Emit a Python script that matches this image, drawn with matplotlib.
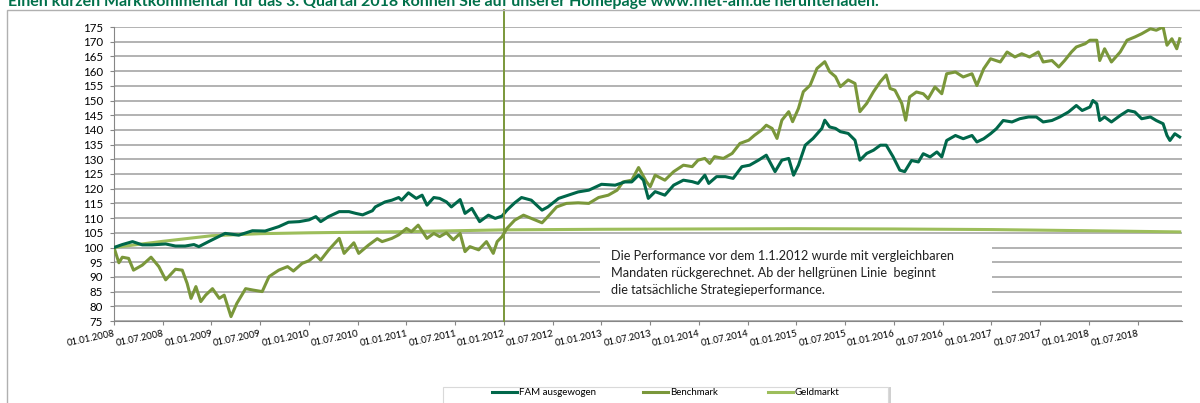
import numpy as np
import matplotlib
matplotlib.use("Agg")
import matplotlib.pyplot as plt
from matplotlib.patches import Rectangle

plt.rcParams['font.family'] = ['Lato', 'DejaVu Sans']

# Zeit in Jahren (Dezimaljahr), Werte indexiert auf 100
fam_t = [2008.00, 2008.085, 2008.19, 2008.29, 2008.39, 2008.53, 2008.63, 2008.73, 2008.82, 2008.87,
         2008.97, 2009.14, 2009.28, 2009.42, 2009.55, 2009.69, 2009.79, 2009.90, 2010.00, 2010.07,
         2010.12, 2010.20, 2010.31, 2010.41, 2010.48, 2010.55, 2010.65, 2010.68, 2010.78, 2010.85,
         2010.92, 2010.95, 2011.02, 2011.10, 2011.16, 2011.21, 2011.28, 2011.34, 2011.41, 2011.46,
         2011.55, 2011.60, 2011.67, 2011.75, 2011.84, 2011.91, 2011.98, 2012.03, 2012.11, 2012.18,
         2012.28, 2012.39, 2012.45, 2012.56, 2012.66, 2012.76, 2012.87, 2013.00, 2013.14, 2013.24,
         2013.31, 2013.38, 2013.43, 2013.48, 2013.55, 2013.65, 2013.74, 2013.84, 2013.93, 2013.99,
         2014.06, 2014.10, 2014.18, 2014.27, 2014.35, 2014.44, 2014.52, 2014.61, 2014.69, 2014.78,
         2014.85, 2014.92, 2014.97, 2015.02, 2015.09, 2015.17, 2015.26, 2015.29, 2015.34, 2015.40,
         2015.45, 2015.53, 2015.60, 2015.65, 2015.72, 2015.79, 2015.86, 2015.92, 2015.99, 2016.06,
         2016.11, 2016.18, 2016.25, 2016.30, 2016.37, 2016.44, 2016.49, 2016.54, 2016.63, 2016.71,
         2016.80, 2016.85, 2016.92, 2016.99, 2017.05, 2017.12, 2017.21, 2017.29, 2017.38, 2017.46,
         2017.53, 2017.62, 2017.70, 2017.79, 2017.87, 2017.93, 2018.01, 2018.04, 2018.08, 2018.11,
         2018.16, 2018.23, 2018.32, 2018.40, 2018.47, 2018.54, 2018.63, 2018.69, 2018.76, 2018.80,
         2018.83, 2018.88, 2018.93]
fam_v = [100.0, 101.0, 102.0, 100.9, 100.9, 101.2, 100.5, 100.5, 101.0, 100.3,
         102.0, 104.8, 104.2, 105.7, 105.6, 107.1, 108.6, 108.8, 109.4, 110.5,
         108.8, 110.5, 112.2, 112.2, 111.6, 111.1, 112.5, 113.8, 115.5, 116.1,
         117.0, 116.1, 118.6, 116.7, 117.8, 114.4, 117.0, 116.7, 115.5, 113.8,
         116.3, 111.6, 113.3, 108.8, 111.0, 109.9, 110.7, 112.7, 115.2, 117.0,
         116.1, 112.7, 113.8, 116.7, 117.8, 118.9, 119.5, 121.5, 121.2, 122.3,
         122.3, 124.6, 122.9, 116.7, 119.0, 117.8, 121.2, 122.9, 122.4, 121.8,
         124.6, 121.8, 124.1, 124.1, 123.5, 127.5, 128.0, 129.7, 131.4, 125.8,
         129.7, 130.3, 124.6, 128.0, 134.8, 137.1, 140.5, 143.3, 141.0, 140.5,
         139.4, 138.8, 136.5, 129.7, 132.0, 133.1, 134.8, 134.8, 130.9, 126.3,
         125.8, 129.6, 129.1, 131.9, 130.8, 132.5, 130.8, 136.4, 138.1, 137.0,
         138.1, 135.9, 137.0, 138.7, 140.4, 143.2, 142.7, 143.8, 144.4, 144.4,
         142.7, 143.2, 144.4, 146.1, 148.3, 146.6, 147.8, 150.0, 148.9, 143.2,
         144.4, 142.7, 144.9, 146.6, 146.1, 143.8, 144.4, 143.2, 142.1, 138.1,
         136.4, 138.7, 137.6]

bm_t = [2008.00, 2008.05, 2008.085, 2008.15, 2008.20, 2008.29, 2008.38, 2008.46, 2008.53, 2008.63,
        2008.70, 2008.75, 2008.79, 2008.84, 2008.89, 2008.94, 2009.01, 2009.08, 2009.13, 2009.20,
        2009.26, 2009.35, 2009.43, 2009.52, 2009.59, 2009.69, 2009.78, 2009.84, 2009.93, 2010.00,
        2010.07, 2010.12, 2010.20, 2010.31, 2010.36, 2010.46, 2010.51, 2010.61, 2010.70, 2010.75,
        2010.85, 2010.92, 2011.00, 2011.05, 2011.12, 2011.21, 2011.28, 2011.34, 2011.41, 2011.48,
        2011.55, 2011.60, 2011.65, 2011.74, 2011.82, 2011.89, 2011.93, 2011.98, 2012.03, 2012.11,
        2012.20, 2012.28, 2012.39, 2012.45, 2012.54, 2012.64, 2012.76, 2012.87, 2012.97, 2013.07,
        2013.16, 2013.22, 2013.31, 2013.38, 2013.46, 2013.50, 2013.55, 2013.65, 2013.74, 2013.84,
        2013.93, 2013.99, 2014.06, 2014.11, 2014.16, 2014.25, 2014.34, 2014.42, 2014.51, 2014.57,
        2014.64, 2014.69, 2014.75, 2014.80, 2014.85, 2014.92, 2014.96, 2015.02, 2015.07, 2015.14,
        2015.21, 2015.29, 2015.34, 2015.40, 2015.45, 2015.53, 2015.60, 2015.65, 2015.72, 2015.79,
        2015.86, 2015.92, 2015.96, 2016.01, 2016.08, 2016.12, 2016.16, 2016.23, 2016.30, 2016.35,
        2016.42, 2016.49, 2016.54, 2016.63, 2016.71, 2016.80, 2016.85, 2016.92, 2016.99, 2017.09,
        2017.16, 2017.24, 2017.31, 2017.39, 2017.48, 2017.53, 2017.62, 2017.69, 2017.75, 2017.82,
        2017.87, 2017.96, 2018.01, 2018.08, 2018.11, 2018.16, 2018.23, 2018.32, 2018.39, 2018.47,
        2018.54, 2018.63, 2018.69, 2018.76, 2018.80, 2018.85, 2018.90, 2018.93]
bm_v = [100.0, 94.8, 96.7, 96.3, 92.3, 94.0, 96.7, 93.5, 89.0, 92.6,
        92.3, 87.8, 82.7, 86.7, 81.6, 83.8, 86.0, 82.7, 83.8, 76.5,
        81.0, 86.0, 85.5, 85.0, 90.1, 92.3, 93.5, 92.0, 94.6, 95.5,
        97.4, 95.7, 99.1, 103.1, 98.0, 101.6, 98.0, 100.8, 103.0, 102.0,
        103.1, 104.3, 106.5, 105.4, 107.6, 103.1, 104.8, 103.7, 105.0, 102.6,
        104.8, 98.6, 100.3, 99.2, 102.0, 98.0, 102.0, 103.7, 106.5, 109.3,
        111.0, 109.9, 108.4, 110.5, 113.8, 115.0, 115.2, 115.0, 117.0, 117.8,
        119.5, 122.3, 122.9, 127.2, 122.4, 120.7, 124.6, 122.9, 125.8, 128.0,
        127.5, 129.7, 130.3, 128.6, 130.9, 130.3, 132.0, 135.4, 136.5, 138.2,
        139.9, 141.6, 140.5, 137.1, 143.3, 146.2, 142.8, 147.3, 153.0, 155.2,
        160.9, 163.2, 159.8, 158.1, 154.7, 157.0, 155.8, 146.2, 149.0, 153.0,
        156.4, 158.7, 154.1, 153.5, 149.0, 143.3, 151.2, 152.9, 152.3, 150.6,
        154.6, 152.3, 159.1, 159.7, 158.0, 159.1, 155.1, 160.8, 164.2, 163.1,
        166.5, 164.8, 165.9, 164.8, 166.5, 163.1, 163.6, 161.4, 163.6, 166.5,
        168.2, 169.3, 170.5, 170.5, 163.6, 167.6, 163.1, 166.5, 170.5, 171.6,
        172.7, 174.4, 173.9, 175.0, 168.8, 171.0, 167.6, 171.0]

gm_t = [2008.00, 2008.50, 2009.00, 2009.50, 2010.00, 2011.00, 2012.00, 2013.00, 2014.00, 2015.00,
        2016.00, 2017.00, 2018.00, 2018.93]
gm_v = [100.0, 102.1, 104.0, 104.7, 105.0, 105.4, 106.0, 106.2, 106.3, 106.4,
        106.3, 106.1, 105.7, 105.3]

x_labels = ["01.01.2008", "01.07.2008", "01.01.2009", "01.07.2009", "01.01.2010", "01.07.2010",
            "01.01.2011", "01.07.2011", "01.01.2012", "01.07.2012", "01.01.2013", "01.07.2013",
            "01.01.2014", "01.07.2014", "01.01.2015", "01.07.2015", "01.01.2016", "01.07.2016",
            "01.01.2017", "01.07.2017", "01.01.2018", "01.07.2018"]
start_real = 2012.0

title = ("Einen kurzen Marktkommentar für das 3. Quartal 2018 können Sie auf unserer "
         "Homepage www.fnet-am.de herunterladen.")
note = ["Die Performance vor dem 1.1.2012 wurde mit vergleichbaren",
        "Mandaten rückgerechnet. Ab der hellgrünen Linie  beginnt",
        "die tatsächliche Strategieperformance."]

c_fam = '#00674a'
c_bm = '#7a973a'
c_gm = '#9dbe5b'
c_grid = '#a6a6a6'

W, H = 1200, 403
fig = plt.figure(figsize=(W / 100, H / 100), dpi=100)
ax = fig.add_axes([114 / W, 1 - 321 / H, 1068 / W, 294 / H])

# Rahmen um das Diagramm
fig.patches.append(Rectangle((7 / W, -0.05), 1.2, 1 - 10 / H + 0.05, transform=fig.transFigure,
                             fill=False, edgecolor='#b0b0b0', lw=1.0))

l_gm, = ax.plot(gm_t, gm_v, color=c_gm, lw=2.2, zorder=3)
l_bm, = ax.plot(bm_t, bm_v, color=c_bm, lw=2.2, zorder=4)
l_fam, = ax.plot(fam_t, fam_v, color=c_fam, lw=2.2, zorder=5)

ax.axvline(start_real, ymin=0, ymax=(321 - 10) / 294, color=c_bm, lw=1.4, clip_on=False, zorder=6)

ax.set_xlim(2008.0, 2008.0 + 1068 / 97.5)
ax.set_ylim(75, 175)
ax.set_yticks(np.arange(75, 176, 5))
ax.set_xticks(2008.0 + 0.5 * np.arange(len(x_labels)))
ax.set_xticklabels(x_labels, rotation=12, ha='right', rotation_mode='anchor', fontsize=6.8)
ax.tick_params(axis='y', length=3, color='#868686', labelsize=8.3, pad=5)
ax.tick_params(axis='x', length=3, color='#868686', pad=3)
ax.grid(axis='y', color=c_grid, lw=1.2)
ax.set_axisbelow(True)
for s in ['top', 'right']:
    ax.spines[s].set_visible(False)
ax.spines['left'].set_color('#868686')
ax.spines['bottom'].set_color('#868686')

# Hinweis-Box
ax.add_patch(Rectangle(((600 - 114) / 1068, (321 - 300) / 294), 392 / 1068, 60 / 294,
                       transform=ax.transAxes, facecolor='white', edgecolor='none', zorder=2))
for i, line in enumerate(note):
    ax.text((611 - 114) / 1068, (321 - 256 - 17 * i) / 294, line, transform=ax.transAxes,
            va='center', ha='left', fontsize=9.2, color='#222222', zorder=7)

fig.text(8 / W, 1 - 6 / H, title, va='baseline', ha='left', fontsize=11.5, fontweight='bold',
         color='#00704a')

# Legende
fig.patches.append(Rectangle((446 / W, -0.01), 445 / W, 20 / H, transform=fig.transFigure,
                             facecolor='#d0d0d0', edgecolor='none'))
fig.patches.append(Rectangle((443 / W, -0.02), 445 / W, 20 / H + 0.01, transform=fig.transFigure,
                             facecolor='white', edgecolor='#d9d9d9', lw=0.8))
for handle, name, xpos in [(l_fam, 'FAM ausgewogen', 492), (l_bm, 'Benchmark', 643),
                           (l_gm, 'Geldmarkt', 768)]:
    fig.legend([handle], [name], loc='center left', bbox_to_anchor=(xpos / W, 1 - 392.5 / H),
               frameon=False, fontsize=7, handlelength=2.6, handletextpad=0.15,
               borderpad=0, borderaxespad=0)

plt.savefig('out.png', dpi=100)
